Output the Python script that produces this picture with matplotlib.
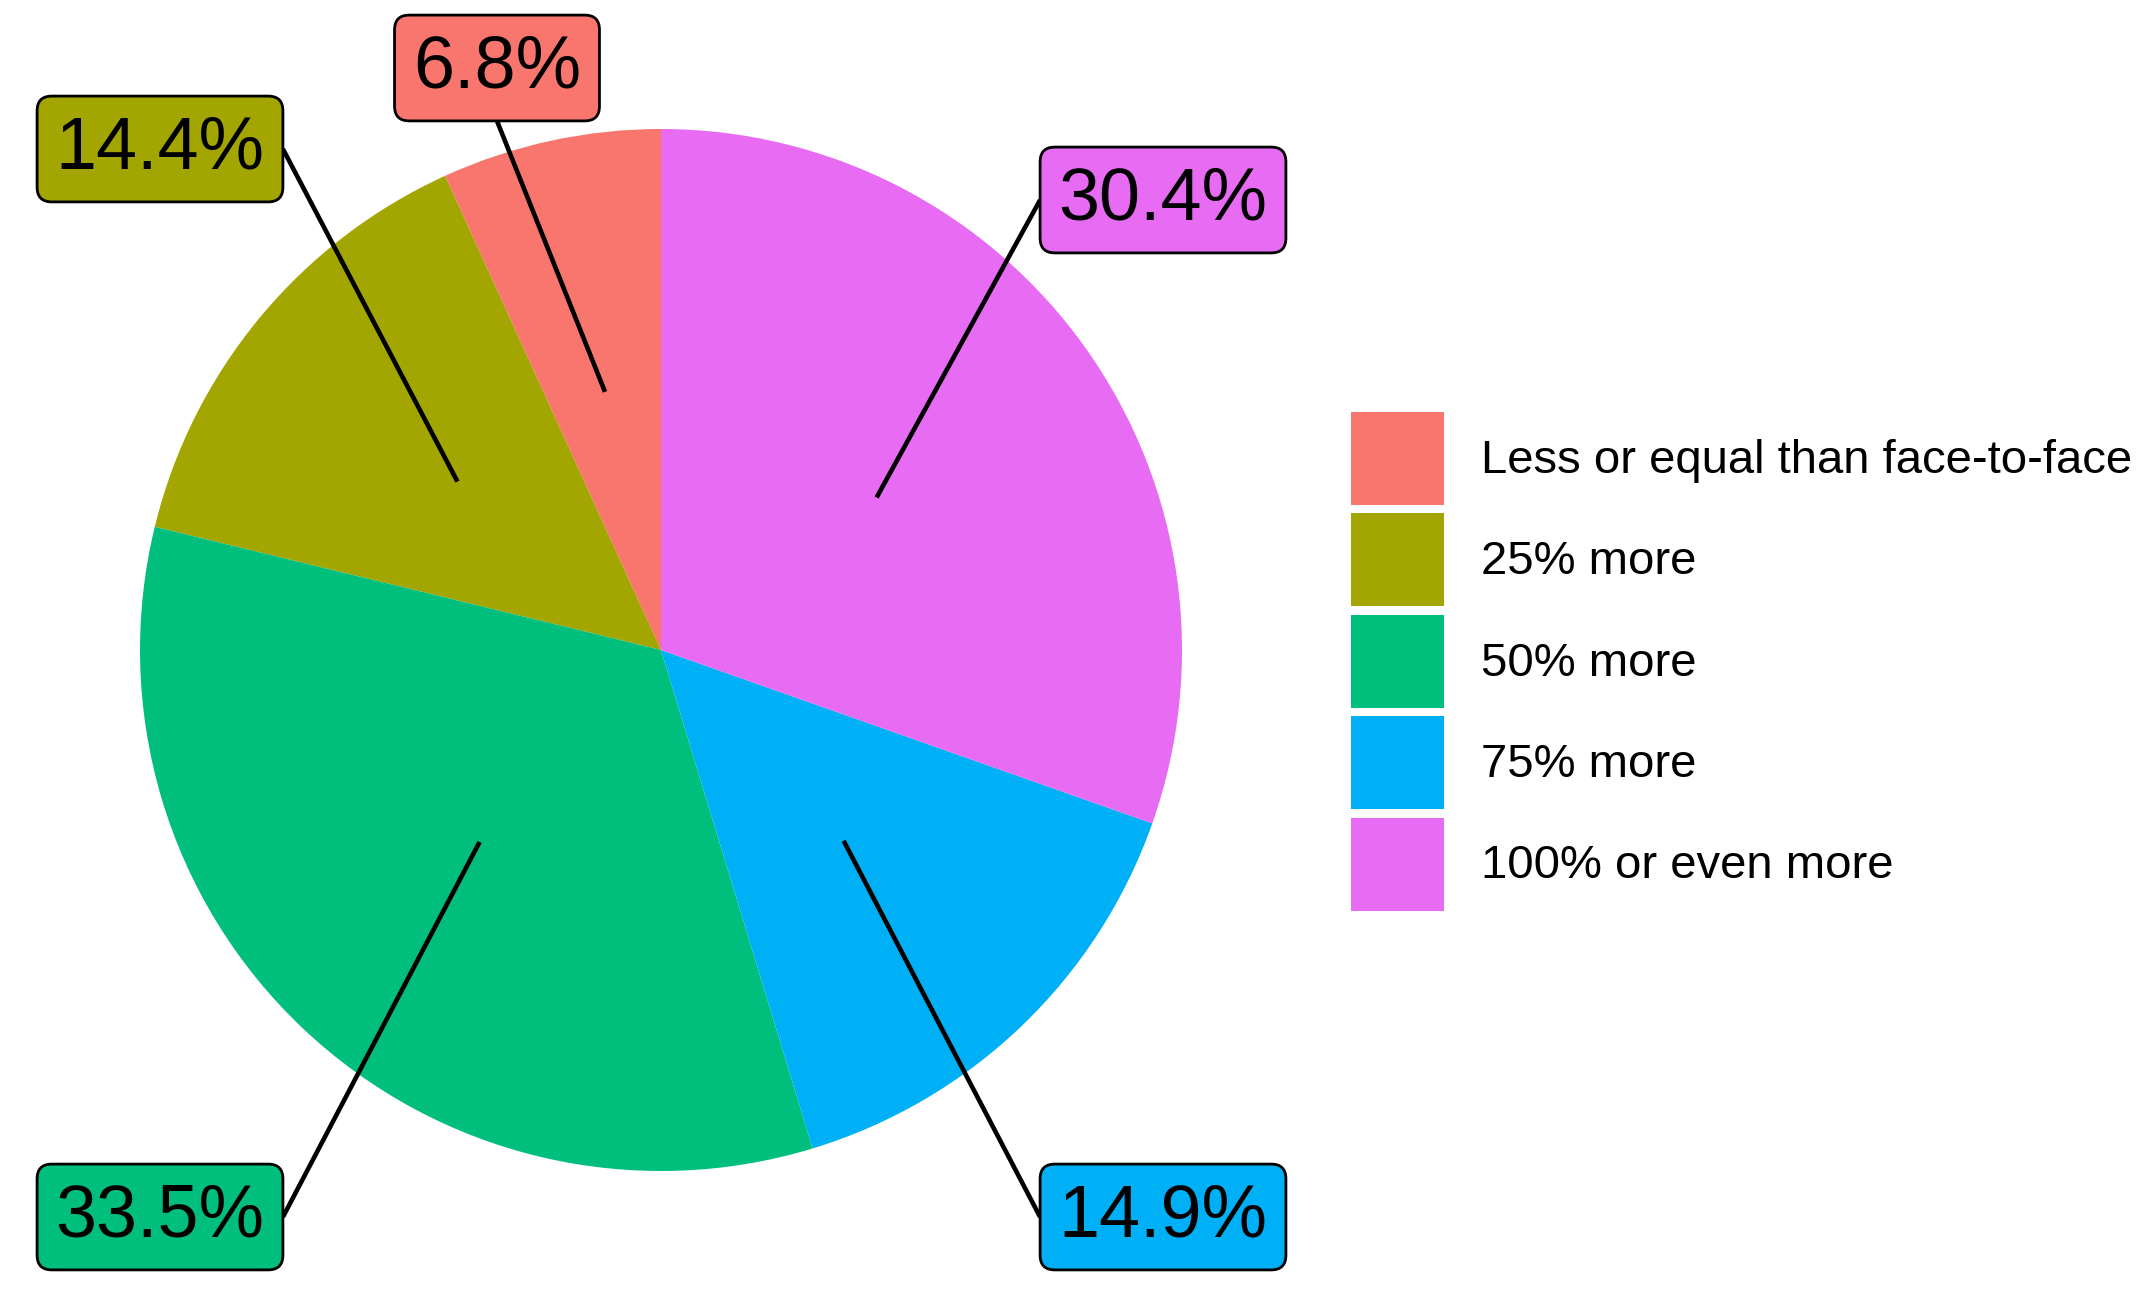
import matplotlib
matplotlib.use("Agg")
import matplotlib.pyplot as plt
from matplotlib.patches import Patch
import numpy as np

plt.rcParams['font.family'] = ['Liberation Sans', 'DejaVu Sans']

categories = ["Less or equal than face-to-face", "25% more", "50% more", "75% more", "100% or even more"]
shares = [6.8, 14.4, 33.5, 14.9, 30.4]
labels = ["6.8%", "14.4%", "33.5%", "14.9%", "30.4%"]
colors = ["#F8766D", "#A3A500", "#00BF7D", "#00B0F6", "#E76BF3"]

# layout: label box centres (pixels, y from top)
box_pos = [(497, 68), (160, 149), (160, 1217), (1163, 1217), (1163, 200)]

W, H = 2151, 1299
fig = plt.figure(figsize=(W / 100, H / 100), dpi=100)
ax = fig.add_axes([0, 0, 1, 1])
cx, cy, R = 661, H - 650, 521
wedges, _ = ax.pie(shares, colors=colors, startangle=90, counterclock=True,
                   center=(cx, cy), radius=R, wedgeprops=dict(linewidth=0))
ax.set_xlim(0, W)
ax.set_ylim(0, H)
ax.set_aspect('equal')
ax.axis('off')

texts = []
for lab, col, (bx, by) in zip(labels, colors, box_pos):
    t = ax.text(bx, H - by, lab, ha='center', va='center', fontsize=53, color='black', zorder=5,
                bbox=dict(boxstyle='round,pad=0.25,rounding_size=0.2', fc=col, ec='black', lw=2))
    texts.append(t)

fig.canvas.draw()
renderer = fig.canvas.get_renderer()
inv = ax.transData.inverted()
for w, t in zip(wedges, texts):
    mid = np.deg2rad((w.theta1 + w.theta2) / 2)
    px = cx + 0.507 * R * np.cos(mid)
    py = cy + 0.507 * R * np.sin(mid)
    bb = t.get_bbox_patch().get_window_extent(renderer)
    (x0, y0), (x1, y1) = inv.transform([(bb.x0, bb.y0), (bb.x1, bb.y1)])
    xm, ym = (x0 + x1) / 2, (y0 + y1) / 2
    cands = [(x0, ym), (x1, ym), (xm, y0), (xm, y1)]
    ex, ey = min(cands, key=lambda p: (p[0] - px) ** 2 + (p[1] - py) ** 2)
    ax.plot([px, ex], [py, ey], color='black', lw=3.3, zorder=4, solid_capstyle='butt')

handles = [Patch(facecolor=c, edgecolor='white', linewidth=0) for c in colors]
fig.legend(handles, categories, loc='upper left', bbox_to_anchor=(1351 / W, 1 - 412 / H),
           frameon=False, fontsize=34, handlelength=1.96, handleheight=2.65,
           labelspacing=0.18, handletextpad=0.79, borderpad=0, borderaxespad=0)

fig.savefig("out.png", dpi=100)
